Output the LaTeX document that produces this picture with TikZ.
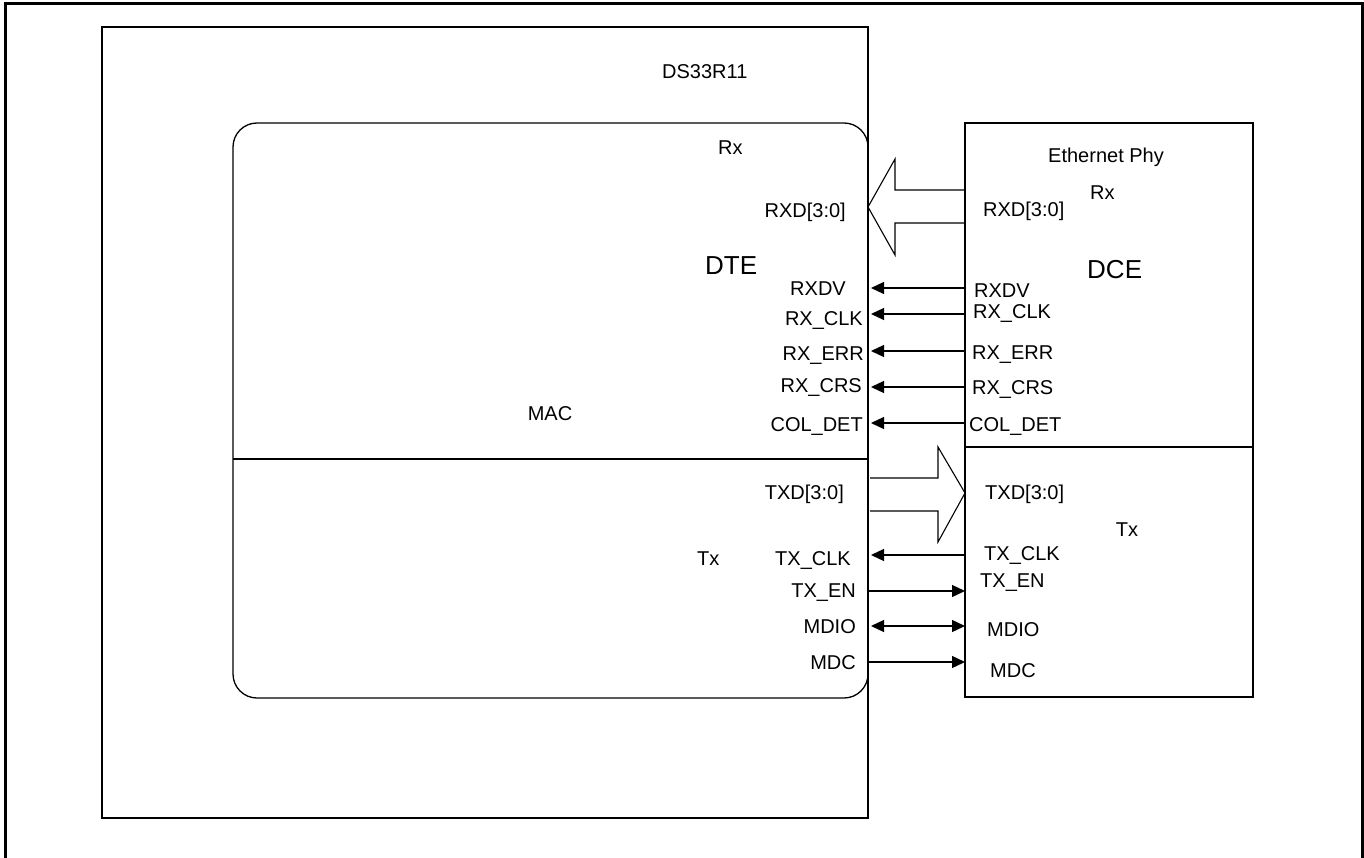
\documentclass[tikz,border=0pt]{standalone}
\usepackage{fontspec}
\setmainfont{Liberation Sans}
\usetikzlibrary{arrows.meta}
\begin{document}
\begin{tikzpicture}[x=1pt,y=-1pt,
  box/.style={draw,line width=1.3pt,inner sep=0pt,outer sep=0pt},
  lbl/.style={inner sep=0pt,font=\fontsize{20}{20}\selectfont,text height=14.3pt,text depth=0pt},
  big/.style={inner sep=0pt,font=\fontsize{26}{26}\selectfont,text height=18.6pt,text depth=0pt},
  sig/.style={line width=1.3pt,-{Triangle[length=13pt,width=12pt]}},
  bisig/.style={line width=1.3pt,{Triangle[length=13pt,width=12pt]}-{Triangle[length=13pt,width=12pt]}},
  fat/.style={draw,line width=1.1pt,line join=miter}]
\useasboundingbox (0,0) rectangle (1364,858);
% outer frame
\draw[line width=3pt] (5,858) -- (5,3.5) -- (1362,3.5) -- (1362,858);
% boxes
\node[box,anchor=north west,minimum width=766pt,minimum height=791pt] (ds) at (102,27) {};
\node[box,anchor=north west,rounded corners=24pt,minimum width=635pt,minimum height=575pt] (mac) at (233,123) {};
\node[box,anchor=north west,minimum width=288pt,minimum height=574pt] (phy) at (965,123) {};
\draw[line width=1.3pt] (mac.west |- 0,459) -- (mac.east |- 0,459);
\draw[line width=1.3pt] (phy.west |- 0,447) -- (phy.east |- 0,447);
% big data arrows
\coordinate (rxs1) at (965,190);
\coordinate (rxs2) at (965,223);
\draw[fat] (rxs1) -- (895,190) -- (895,159) -- (868,207) -- (895,255) -- (895,223) -- (rxs2);
\coordinate (txs1) at (870,478);
\coordinate (txs2) at (870,511);
\draw[fat] (txs1) -- (938,478) -- (938,447) -- (965,493) -- (938,542) -- (938,511) -- (txs2);
% signal arrows
\draw[sig] (phy.west |- 0,288) -- (871,288);
\draw[sig] (phy.west |- 0,314) -- (871,314);
\draw[sig] (phy.west |- 0,351) -- (871,351);
\draw[sig] (phy.west |- 0,387) -- (871,387);
\draw[sig] (phy.west |- 0,423) -- (871,423);
\draw[sig] (phy.west |- 0,555) -- (871,555);
\draw[sig] (mac.east |- 0,591) -- (phy.west |- 0,591);
\draw[bisig] (871,626) -- (phy.west |- 0,626);
\draw[sig] (mac.east |- 0,662) -- (phy.west |- 0,662);
% titles
\node[lbl,anchor=west] (tds) at (662,71) {DS33R11};
\node[lbl,anchor=west] (trx) at (718,147) {Rx};
\node[big,anchor=west] (tdte) at (705,265) {DTE};
\node[lbl] (tmac) at (550,413) {MAC};
\node[lbl,anchor=west] (ttx) at (697,558) {Tx};
\node[lbl,anchor=west] (teth) at (1048,155) {Ethernet Phy};
\node[lbl,anchor=west] (prx) at (1090,192) {Rx};
\node[big,anchor=west] (tdce) at (1087,269) {DCE};
\node[lbl] (ptx) at (1127,529) {Tx};
% left labels
\node[lbl,anchor=east] (l1) at (846,210) {RXD[3:0]};
\node[lbl,anchor=east] (l2) at (846,288.5) {RXDV};
\node[lbl,anchor=east] (l3) at (863,318) {RX\_CLK};
\node[lbl,anchor=east] (l4) at (864,353) {RX\_ERR};
\node[lbl,anchor=east] (l5) at (862,385) {RX\_CRS};
\node[lbl,anchor=east] (l6) at (863,424) {COL\_DET};
\node[lbl,anchor=east] (l7) at (844,492) {TXD[3:0]};
\node[lbl,anchor=east] (l8) at (851,558) {TX\_CLK};
\node[lbl,anchor=east] (l9) at (856,590) {TX\_EN};
\node[lbl,anchor=east] (l10) at (856,626) {MDIO};
\node[lbl,anchor=east] (l11) at (856,662) {MDC};
% right labels
\node[lbl,anchor=west] (r1) at (983,209) {RXD[3:0]};
\node[lbl,anchor=west] (r2) at (974,290) {RXDV};
\node[lbl,anchor=west] (r3) at (973,311) {RX\_CLK};
\node[lbl,anchor=west] (r4) at (972,352) {RX\_ERR};
\node[lbl,anchor=west] (r5) at (972,387) {RX\_CRS};
\node[lbl,anchor=west] (r6) at (969,424) {COL\_DET};
\node[lbl,anchor=west] (r7) at (985,492) {TXD[3:0]};
\node[lbl,anchor=west] (r8) at (984,553) {TX\_CLK};
\node[lbl,anchor=west] (r9) at (980,580) {TX\_EN};
\node[lbl,anchor=west] (r10) at (987,629) {MDIO};
\node[lbl,anchor=west] (r11) at (990,670) {MDC};
\end{tikzpicture}
\end{document}
